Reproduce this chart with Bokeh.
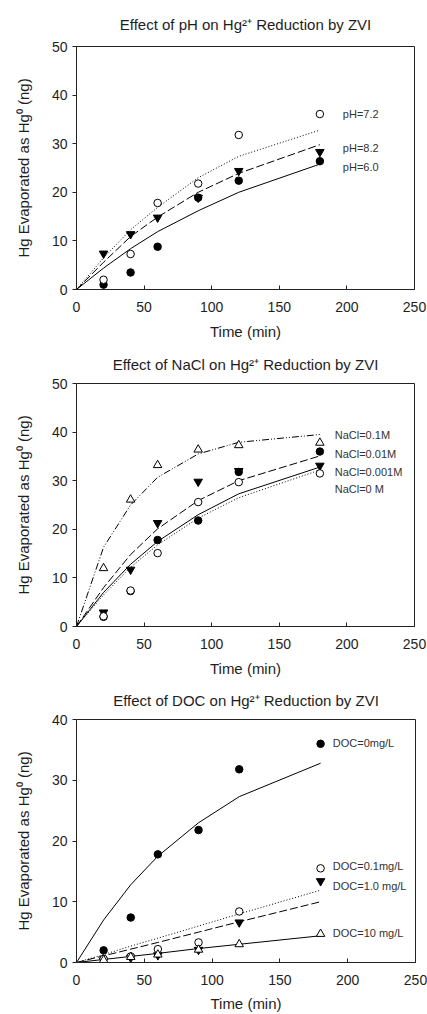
from bokeh.plotting import figure
from bokeh.layouts import column
from bokeh.models import Range1d, FixedTicker, Label
from bokeh.embed import file_html
from bokeh.resources import INLINE

# ---------------- data ----------------
time = [20, 40, 60, 90, 120, 180]
t_model = [0, 20, 40, 60, 90, 120, 180]

# pH panel
ph72 = [2.0, 7.3, 17.8, 21.8, 31.8, 36.1]
ph82 = [7.4, 11.4, 14.8, 18.9, 24.4, 28.3]
ph60 = [1.0, 3.5, 8.8, 18.9, 22.4, 26.4]
fit_ph72 = [0, 6.5, 12.3, 16.9, 23.0, 27.4, 32.8]
fit_ph82 = [0, 5.6, 10.9, 14.9, 20.0, 23.9, 29.8]
fit_ph60 = [0, 4.4, 8.4, 11.9, 16.2, 20.0, 25.8]

# NaCl panel
nacl_01 = [12.0, 26.1, 33.2, 36.4, 37.3, 37.8]
nacl_001 = [2.0, 7.3, 17.8, 21.8, 31.8, 36.0]
nacl_0001 = [2.9, 11.7, 21.3, 29.8, 32.0, 33.1]
nacl_0 = [2.1, 7.4, 15.1, 25.6, 29.7, 31.5]
fit_nacl_01 = [0, 16.3, 25.0, 30.7, 35.5, 37.9, 39.5]
fit_nacl_001 = [0, 7.0, 12.8, 17.5, 23.0, 27.3, 32.8]
fit_nacl_0001 = [0, 8.0, 14.8, 20.1, 25.9, 30.0, 35.1]
fit_nacl_0 = [0, 6.5, 12.2, 16.8, 22.3, 26.5, 32.2]

# DOC panel
doc_0 = [2.0, 7.4, 17.8, 21.8, 31.8, 36.0]
doc_01 = [0.6, 1.0, 2.2, 3.3, 8.4, 15.5]
doc_1 = [0.3, 0.8, 1.2, 2.1, 6.6, 13.4]
doc_10 = [0.4, 0.9, 1.3, 2.1, 3.0, 4.7]
fit_doc_0 = [0, 7.0, 12.8, 17.5, 23.0, 27.3, 32.8]
fit_doc_01 = [0, 1.3, 2.7, 4.0, 6.0, 8.0, 11.9]
fit_doc_1 = [0, 1.1, 2.2, 3.3, 5.0, 6.7, 10.0]
fit_doc_10 = [0, 0.5, 1.0, 1.5, 2.3, 3.0, 4.4]

x_ticks = [0, 50, 100, 150, 200, 250]
y_ticks_50 = [0, 10, 20, 30, 40, 50]
y_ticks_40 = [0, 10, 20, 30, 40]

titles = ["Effect of pH on Hg\u00b2\u207a Reduction by ZVI",
          "Effect of NaCl on Hg\u00b2\u207a Reduction by ZVI",
          "Effect of DOC on Hg\u00b2\u207a Reduction by ZVI"]
x_label = "Time (min)"
y_label = "Hg Evaporated as Hg\u2070 (ng)"

labels_ph = ["pH=7.2", "pH=8.2", "pH=6.0"]
labels_ph_y = [36.1, 29.2, 25.3]
labels_nacl = ["NaCl=0.1M", "NaCl=0.01M", "NaCl=0.001M", "NaCl=0 M"]
labels_nacl_y = [39.4, 35.5, 31.8, 28.3]
labels_doc = ["DOC=0mg/L", "DOC=0.1mg/L", "DOC=1.0 mg/L", "DOC=10 mg/L"]
labels_doc_y = [36.1, 15.9, 12.6, 4.8]

FONT = "Liberation Sans"
TXT = "#1e1e1e"


def make_fig(title, ymax, yticks, fw, left, top, bottom, right, xlab_standoff):
    p = figure(frame_width=fw, frame_height=243, output_backend="svg", toolbar_location=None,
               x_range=Range1d(0, 250), y_range=Range1d(0, ymax),
               min_border_left=left, min_border_right=right,
               min_border_top=top, min_border_bottom=bottom, title=title)
    p.title.text_font = FONT
    p.title.text_font_size = "15px"
    p.title.text_font_style = "normal"
    p.title.text_color = TXT
    p.title.align = "center"
    p.title.vertical_align = "middle"
    p.title.standoff = top - 20
    p.xgrid.visible = False
    p.ygrid.visible = False
    p.outline_line_color = "#222222"
    p.outline_line_width = 1
    p.outline_line_alpha = 1
    for ax, ticks in ((p.xaxis[0], x_ticks), (p.yaxis[0], yticks)):
        ax.ticker = FixedTicker(ticks=ticks)
        ax.minor_tick_line_color = None
        ax.axis_line_color = "#222222"
        ax.major_tick_line_color = "#222222"
        ax.major_label_text_font = FONT
        ax.major_label_text_font_size = "14px"
        ax.major_label_text_color = TXT
        ax.axis_label_text_font = FONT
        ax.axis_label_text_font_size = "15px"
        ax.axis_label_text_font_style = "normal"
        ax.axis_label_text_color = TXT
    p.xaxis.major_tick_in = 4
    p.xaxis.major_tick_out = 0
    p.yaxis.major_tick_in = 0
    p.yaxis.major_tick_out = 4
    p.xaxis.major_label_standoff = 12
    p.yaxis.major_label_standoff = 5
    p.xaxis.axis_label = x_label
    p.yaxis.axis_label = y_label
    p.xaxis.axis_label_standoff = xlab_standoff
    p.yaxis.axis_label_standoff = 17
    return p


def add_labels(p, texts, ys, x):
    for t, y in zip(texts, ys):
        p.add_layout(Label(x=x, y=y, text=t, text_font=FONT, text_font_size="11px",
                           text_color="#333333", text_baseline="middle", text_align="left"))


def filled(p, ys, marker="circle", size=7.5):
    p.scatter(time, ys, marker=marker, size=size, fill_color="black", line_color="black")


def hollow(p, ys, marker="circle", size=7.5):
    p.scatter(time, ys, marker=marker, size=size, fill_color="white", line_color="black", line_width=1)


# ---- panel 1 ----
p1 = make_fig(titles[0], 50, y_ticks_50, 338, 76, 46, 54, 13, 8)
p1.line(t_model, fit_ph72, line_color="black", line_width=1, line_dash="1 2")
p1.line(t_model, fit_ph82, line_color="black", line_width=1, line_dash="8 3")
p1.line(t_model, fit_ph60, line_color="black", line_width=1)
filled(p1, ph60)
filled(p1, ph82, marker="inverted_triangle", size=8.5)
hollow(p1, ph72)
add_labels(p1, labels_ph, labels_ph_y, 197)

# ---- panel 2 ----
p2 = make_fig(titles[1], 50, y_ticks_50, 338, 76, 40, 53, 13, 8)
p2.line(t_model, fit_nacl_01, line_color="black", line_width=1, line_dash="7 2 1 2 1 2")
p2.line(t_model, fit_nacl_0001, line_color="black", line_width=1, line_dash="8 3")
p2.line(t_model, fit_nacl_001, line_color="black", line_width=1)
p2.line(t_model, fit_nacl_0, line_color="black", line_width=1, line_dash="1 2")
filled(p2, nacl_001)
filled(p2, nacl_0001, marker="inverted_triangle", size=8.5)
hollow(p2, nacl_0)
hollow(p2, nacl_01, marker="triangle", size=8.5)
add_labels(p2, labels_nacl, labels_nacl_y, 191)

# ---- panel 3 ----
p3 = make_fig(titles[2], 40, y_ticks_40, 339, 73, 40, 52, 15, 7)
p3.line(t_model, fit_doc_0, line_color="black", line_width=1)
p3.line(t_model, fit_doc_01, line_color="black", line_width=1, line_dash="1 2")
p3.line(t_model, fit_doc_1, line_color="black", line_width=1, line_dash="8 3")
p3.line(t_model, fit_doc_10, line_color="black", line_width=1)
filled(p3, doc_0)
filled(p3, doc_1, marker="inverted_triangle", size=8.5)
hollow(p3, doc_01)
hollow(p3, doc_10, marker="triangle", size=8.5)
add_labels(p3, labels_doc, labels_doc_y, 189)

layout = column(p1, p2, p3, spacing=0)
open("out.html", "w").write(file_html(layout, INLINE))
